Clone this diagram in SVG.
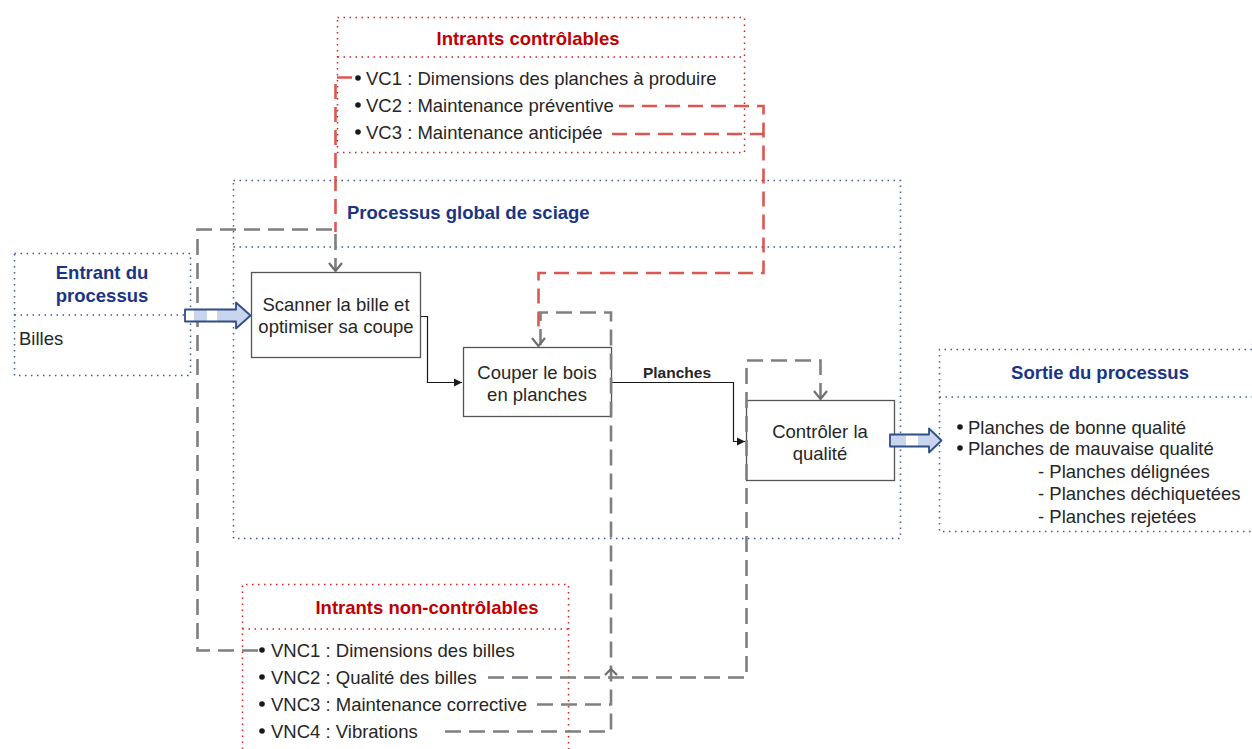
<svg xmlns="http://www.w3.org/2000/svg" width="1252" height="749" viewBox="0 0 1252 749">
  <defs>
    <style>
      .txt { font-family: "Liberation Sans", Arial, sans-serif; font-size: 18.5px; fill: #262626; }
      .lbl { font-family: "Liberation Sans", Arial, sans-serif; font-size: 15.5px; font-weight: bold; fill: #262626; }
      .ttl-red { font-family: "Liberation Sans", Arial, sans-serif; font-size: 18.5px; font-weight: bold; fill: #c00000; }
      .ttl-blue { font-family: "Liberation Sans", Arial, sans-serif; font-size: 18.5px; font-weight: bold; fill: #1a3585; }
      .dot-blue { fill: none; stroke: #3f5c8c; stroke-width: 1.5; stroke-dasharray: 1.5 4.5; }
      .dot-red { fill: none; stroke: #d62020; stroke-width: 1.5; stroke-dasharray: 1.5 4.5; }
      .box { fill: #ffffff; stroke: #555555; stroke-width: 1.3; }
      .flow { fill: none; stroke: #1a1a1a; stroke-width: 1.2; }
      .dash-red { fill: none; stroke: #d9453f; stroke-width: 2.6; stroke-dasharray: 15 8; stroke-opacity: 0.9; }
      .dash-gray { fill: none; stroke: #7f7f7f; stroke-width: 2.6; stroke-dasharray: 16 8; }
      .chev { fill: none; stroke: #6f6f6f; stroke-width: 2.2; }
      .bullet { fill: #1a1a1a; }
      .block { stroke: #2e4f86; stroke-width: 1.8; stroke-linejoin: round; }
    </style>
    <marker id="arr" markerWidth="10" markerHeight="10" refX="9" refY="5" orient="auto" markerUnits="userSpaceOnUse">
      <path d="M1,1 L9,5 L1,9 Z" fill="#1a1a1a"/>
    </marker>
    <linearGradient id="stripes-in" x1="185" y1="0" x2="237" y2="0" gradientUnits="userSpaceOnUse">
      <stop offset="0" stop-color="#ffffff"/>
      <stop offset="0.18" stop-color="#ffffff"/>
      <stop offset="0.18" stop-color="#c9d4ee"/>
      <stop offset="0.42" stop-color="#c9d4ee"/>
      <stop offset="0.42" stop-color="#ffffff"/>
      <stop offset="0.62" stop-color="#ffffff"/>
      <stop offset="0.62" stop-color="#c9d4ee"/>
      <stop offset="1" stop-color="#c9d4ee"/>
    </linearGradient>
    <linearGradient id="stripes-out" x1="890" y1="0" x2="930" y2="0" gradientUnits="userSpaceOnUse">
      <stop offset="0" stop-color="#c9d4ee"/>
      <stop offset="0.4" stop-color="#c9d4ee"/>
      <stop offset="0.4" stop-color="#ffffff"/>
      <stop offset="0.7" stop-color="#ffffff"/>
      <stop offset="0.7" stop-color="#c9d4ee"/>
      <stop offset="1" stop-color="#c9d4ee"/>
    </linearGradient>
  </defs>

  <rect x="0" y="0" width="1252" height="749" fill="#ffffff"/>

  <!-- process frame -->
  <g id="processus">
    <rect class="dot-blue" x="233.5" y="180.5" width="667" height="358"/>
    <line class="dot-blue" x1="233.5" y1="247" x2="900.5" y2="247"/>
    <text class="ttl-blue" x="347" y="218.5">Processus global de sciage</text>
  </g>

  <!-- controllable inputs -->
  <g id="intrants-controlables">
    <rect class="dot-red" x="337.5" y="17.5" width="407" height="135"/>
    <line class="dot-red" x1="337.5" y1="57" x2="744.5" y2="57"/>
    <text class="ttl-red" x="528" y="44.5" text-anchor="middle">Intrants contrôlables</text>
    <circle class="bullet" cx="358" cy="78" r="2.8"/>
    <text class="txt" x="366" y="84.5">VC1 : Dimensions des planches à produire</text>
    <circle class="bullet" cx="358" cy="105" r="2.8"/>
    <text class="txt" x="366" y="111.5">VC2 : Maintenance préventive</text>
    <circle class="bullet" cx="358" cy="132" r="2.8"/>
    <text class="txt" x="366" y="138.5">VC3 : Maintenance anticipée</text>
  </g>

  <!-- uncontrollable inputs -->
  <g id="intrants-non-controlables">
    <path class="dot-red" d="M242.5,749 V584.5 H568.5 V749"/>
    <line class="dot-red" x1="242.5" y1="629" x2="568.5" y2="629"/>
    <text class="ttl-red" x="427" y="613.5" text-anchor="middle">Intrants non-contrôlables</text>
    <circle class="bullet" cx="262" cy="650" r="2.8"/>
    <text class="txt" x="271" y="656.5">VNC1 : Dimensions des billes</text>
    <circle class="bullet" cx="262" cy="677" r="2.8"/>
    <text class="txt" x="271" y="683.5">VNC2 : Qualité des billes</text>
    <circle class="bullet" cx="262" cy="704" r="2.8"/>
    <text class="txt" x="271" y="710.5">VNC3 : Maintenance corrective</text>
    <circle class="bullet" cx="262" cy="731" r="2.8"/>
    <text class="txt" x="271" y="737.5">VNC4 : Vibrations</text>
  </g>

  <!-- process input -->
  <g id="entrant">
    <rect class="dot-blue" x="14.5" y="253.5" width="176" height="122"/>
    <line class="dot-blue" x1="14.5" y1="315" x2="190.5" y2="315"/>
    <text class="ttl-blue" x="102" y="278.5" text-anchor="middle">Entrant du</text>
    <text class="ttl-blue" x="102" y="301.5" text-anchor="middle">processus</text>
    <text class="txt" x="19" y="344.5">Billes</text>
  </g>

  <!-- process output -->
  <g id="sortie">
    <path class="dot-blue" d="M1252,349.5 H939.5 V531.5 H1252"/>
    <line class="dot-blue" x1="939.5" y1="397" x2="1252" y2="397"/>
    <text class="ttl-blue" x="1100" y="378.5" text-anchor="middle">Sortie du processus</text>
    <circle class="bullet" cx="960" cy="427" r="2.8"/>
    <text class="txt" x="968" y="433.5">Planches de bonne qualité</text>
    <circle class="bullet" cx="960" cy="448" r="2.8"/>
    <text class="txt" x="968" y="454.5">Planches de mauvaise qualité</text>
    <text class="txt" x="1038" y="477.5">- Planches délignées</text>
    <text class="txt" x="1038" y="499.5">- Planches déchiquetées</text>
    <text class="txt" x="1038" y="522.5">- Planches rejetées</text>
  </g>

  <!-- activity boxes -->
  <g id="scanner">
    <rect class="box" x="251.5" y="272.5" width="169" height="85"/>
    <text class="txt" x="336" y="310.5" text-anchor="middle">Scanner la bille et</text>
    <text class="txt" x="336" y="333" text-anchor="middle">optimiser sa coupe</text>
  </g>
  <g id="couper">
    <rect class="box" x="463.5" y="347.5" width="148" height="69"/>
    <text class="txt" x="537" y="378.5" text-anchor="middle">Couper le bois</text>
    <text class="txt" x="537" y="400.5" text-anchor="middle">en planches</text>
  </g>
  <g id="controler">
    <rect class="box" x="746.5" y="400.5" width="148" height="80"/>
    <text class="txt" x="820" y="437.5" text-anchor="middle">Contrôler la</text>
    <text class="txt" x="820" y="459.5" text-anchor="middle">qualité</text>
  </g>

  <!-- connectors -->
  <g id="connecteurs">
    <!-- main flow -->
    <path class="flow" d="M421,316.5 H427.5 V382.5 H462" marker-end="url(#arr)"/>
    <path class="flow" d="M612,382.5 H733.5 V441.5 H745" marker-end="url(#arr)"/>
    <text class="lbl" x="677" y="377.5" text-anchor="middle">Planches</text>

    <!-- controllable inputs -->
    <path class="dash-red" d="M352,77.5 H335.5 V232"/>
    <path class="dash-red" d="M619,106 H763.5 V273 H538.5 V330"/>
    <path class="dash-red" d="M612,134 H763.5"/>

    <!-- uncontrollable inputs -->
    <path class="dash-gray" d="M258,650.5 H197.5 V229.5 H335.5 V270"/>
    <path class="chev" d="M329,263 L335.5,271 L342,263"/>
    <path class="dash-gray" d="M445,731.5 H611 V312.5 H540.5 V345"/>
    <path class="dash-gray" d="M537,704.5 H611"/>
    <path class="chev" d="M532,338 L538.5,346 L545,338"/>
    <path class="dash-gray" d="M488,677.5 H746.5 V360.5 H820.5 V398"/>
    <path class="chev" d="M814,391 L820.5,399 L827,391"/>
    <path class="chev" d="M605,675 L611,669 L617,675"/>

    <!-- input / output block arrows -->
    <path class="block" fill="url(#stripes-in)" d="M185,309.5 H236 V302.5 L250.5,315.5 L236,328.5 V321.5 H185 Z"/>
    <path class="block" fill="url(#stripes-out)" d="M890,434.5 H929 V428.5 L941.5,440.5 L929,452.5 V446.5 H890 Z"/>
  </g>
</svg>
